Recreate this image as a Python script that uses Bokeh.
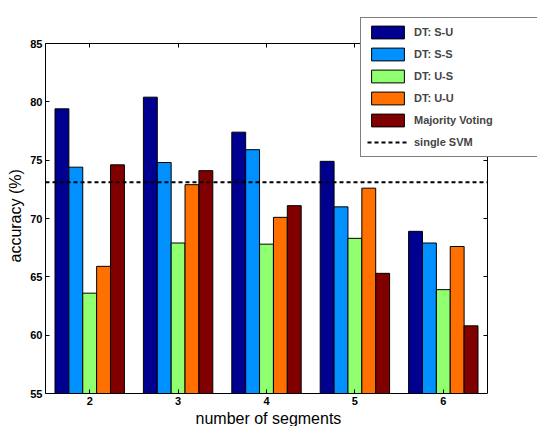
from bokeh.plotting import figure
from bokeh.models import Range1d, LinearAxis, FixedTicker, Legend, LegendItem, Title
from bokeh.embed import file_html
from bokeh.resources import INLINE

segments = [2, 3, 4, 5, 6]
series_names = ["DT: S-U", "DT: S-S", "DT: U-S", "DT: U-U", "Majority Voting"]
dt_su = [79.4, 80.4, 77.4, 74.9, 68.9]
dt_ss = [74.4, 74.8, 75.9, 71.0, 67.9]
dt_us = [63.6, 67.9, 67.8, 68.3, 63.9]
dt_uu = [65.9, 72.9, 70.1, 72.6, 67.6]
majority = [74.6, 74.1, 71.1, 65.3, 60.8]
single_svm = 73.1
colors = ["#000090", "#0090FF", "#90FF70", "#FF7000", "#800000"]
y_ticks = [55, 60, 65, 70, 75, 80, 85]
x_title = "number of segments"
y_title = "accuracy (%)"

# axes box limits (data units)
x_lo, x_hi = 1.5, 6.5
y_lo, y_hi = 55, 85
bar_w = 0.157

# layout geometry (pixels)
W, H = 537, 426
box_left, box_right, box_top, box_bottom = 45, 487, 43, 393
frame_top = 12
px_x = (box_right - box_left) / (x_hi - x_lo)
px_y = (box_bottom - box_top) / (y_hi - y_lo)
x_frame_hi = x_hi + (W - box_right) / px_x
y_frame_hi = y_hi + (box_top - frame_top) / px_y

FONT = "Liberation Sans"

p = figure(width=W, height=H, output_backend="svg", toolbar_location=None,
           x_range=Range1d(x_lo, x_frame_hi), y_range=Range1d(y_lo, y_frame_hi),
           min_border_left=box_left, min_border_right=0,
           min_border_top=frame_top, min_border_bottom=H - box_bottom,
           background_fill_color="white", border_fill_color="white")
p.xgrid.visible = False
p.ygrid.visible = False
p.outline_line_color = None

series = [dt_su, dt_ss, dt_us, dt_uu, majority]
items = []
for k, (vals, name, col) in enumerate(zip(series, series_names, colors)):
    off = (k - 2) * bar_w
    xs = [s + off for s in segments]
    r = p.vbar(x=xs, top=vals, bottom=y_lo, width=bar_w, fill_color=col,
               line_color="black", line_width=1)
    items.append(LegendItem(label=name, renderers=[r]))

lr = p.line([x_lo, x_hi], [single_svm, single_svm], line_color="black",
            line_width=2, line_dash="4 3")
items.append(LegendItem(label="single SVM", renderers=[lr]))


def style_axis(ax, ticks, bounds, show_labels=True):
    ax.ticker = FixedTicker(ticks=ticks)
    ax.bounds = bounds
    ax.major_tick_in = 4
    ax.major_tick_out = 0
    ax.minor_tick_in = 0
    ax.minor_tick_out = 0
    ax.axis_line_color = "black"
    ax.axis_line_width = 1
    ax.major_tick_line_color = "black"
    ax.major_label_text_font = FONT
    ax.major_label_text_font_style = "bold"
    ax.major_label_text_font_size = "11px"
    ax.major_label_text_color = "black"
    ax.major_label_standoff = 3
    if not show_labels:
        ax.major_label_text_font_size = "0px"
        ax.major_label_text_color = None


style_axis(p.xaxis[0], segments, (x_lo, x_hi))
style_axis(p.yaxis[0], y_ticks, (y_lo, y_hi))

top_ax = LinearAxis(fixed_location=y_hi)
style_axis(top_ax, segments, (x_lo, x_hi), show_labels=False)
p.add_layout(top_ax, "above")
right_ax = LinearAxis(fixed_location=x_hi)
style_axis(right_ax, y_ticks, (y_lo, y_hi), show_labels=False)
p.add_layout(right_ax, "right")

# axis titles centred on the axes box (not the whole frame)
xt = Title(text=x_title, align="left", offset=150, standoff=0,
           text_font=FONT, text_font_style="normal", text_font_size="16px",
           text_color="black")
p.add_layout(xt, "below")
yt = Title(text=y_title, align="left", offset=131, standoff=7,
           text_font=FONT, text_font_style="normal", text_font_size="16px",
           text_color="black")
p.add_layout(yt, "left")

legend = Legend(items=items, location=(315, box_bottom - 157), glyph_width=41,
                glyph_height=16, label_height=16, label_width=124, spacing=6,
                padding=6, margin=0, label_standoff=6, label_text_font=FONT,
                label_text_font_style="bold", label_text_font_size="11px",
                border_line_color="black", border_line_width=1.5,
                background_fill_color="white", background_fill_alpha=1.0)
p.add_layout(legend, "center")

open("out.html", "w").write(file_html(p, INLINE))
